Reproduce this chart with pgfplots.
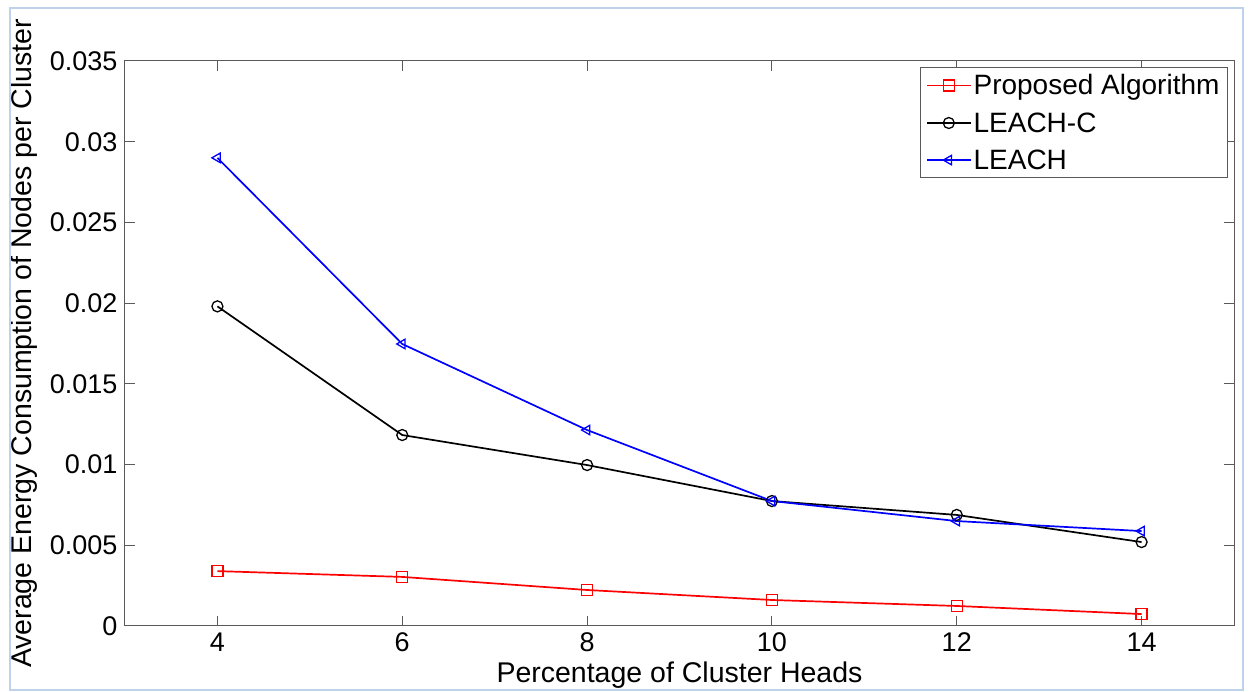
\documentclass[border=0pt]{standalone}
\usepackage{pgfplots}
\pgfplotsset{compat=1.18}
\usepackage{fontspec}
\setmainfont{Liberation Sans}
\definecolor{axgray}{RGB}{90,90,90}
\definecolor{frameblue}{RGB}{190,210,235}
\begin{document}
\begin{tikzpicture}
\begin{axis}[
  at={(0pt,0pt)}, anchor=south west,
  scale only axis, width=1109pt, height=565pt,
  xmin=3, xmax=15, ymin=0, ymax=0.035,
  xtick={4,6,...,14},
  ytick={0,0.005,...,0.035},
  yticklabels={0,0.005,0.01,0.015,0.02,0.025,0.03,0.035},
  scaled y ticks=false,
  tick align=inside, major tick length=10pt,
  axis line style={axgray, line width=1pt},
  every tick/.style={axgray, line width=1pt},
  tick label style={font=\fontsize{27}{32}\selectfont},
  yticklabel style={xshift=-4pt},
  xticklabel style={yshift=-3pt},
  /pgf/number format/assume math mode=true,
  xlabel={Percentage of Cluster Heads},
  ylabel={Average Energy Consumption of Nodes per Cluster},
  label style={font=\fontsize{28.5}{33}\selectfont},
  xlabel style={at={(axis description cs:0.5,-0.0867)}, anchor=center},
  ylabel style={at={(axis description cs:-0.0911,0.5)}, anchor=center},
  legend style={at={(rel axis cs:0.9946,0.989)}, anchor=north east,
    draw=axgray, line width=1pt, font=\fontsize{28}{33}\selectfont,
    inner xsep=6pt, inner ysep=5pt, row sep=12pt},
  legend cell align=left,
  legend image code/.code={\draw[line width=1.6pt, mark repeat=2,mark phase=2] plot coordinates {(0pt,0pt) (22pt,0pt) (44pt,0pt)};},
  every axis plot/.append style={line width=1.7pt, mark size=5.5pt, mark options={solid, line width=1.3pt}},
]
\addplot[red, mark=square] coordinates {(4,0.0034) (6,0.00304) (8,0.00223) (10,0.00161) (12,0.00124) (14,0.00074)};
\addlegendentry{Proposed Algorithm}
\addplot[black, mark=o] coordinates {(4,0.0198) (6,0.01183) (8,0.00997) (10,0.00774) (12,0.00688) (14,0.0052)};
\addlegendentry{LEACH-C}
\addplot[blue, mark=triangle, mark options={rotate=90, solid, line width=1.3pt}] coordinates {(4,0.029) (6,0.01747) (8,0.01214) (10,0.00774) (12,0.0065) (14,0.00588)};
\addlegendentry{LEACH}
\end{axis}
\pgfresetboundingbox
\useasboundingbox (-125pt,-66pt) rectangle (1125pt,626pt);
\draw[frameblue,line width=1.5pt] (-115pt,-64pt) rectangle (1118pt,618pt);
\end{tikzpicture}
\end{document}
